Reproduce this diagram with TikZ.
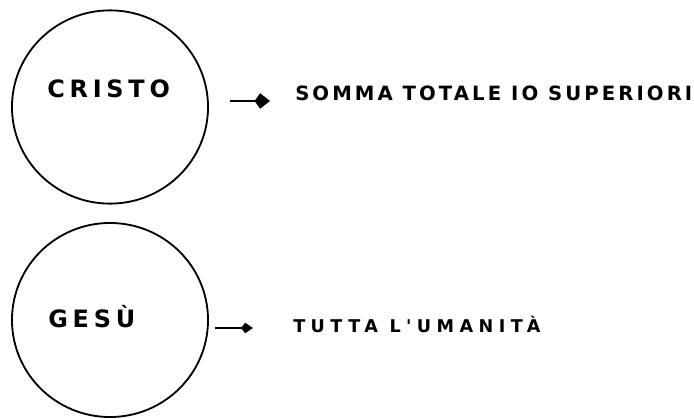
\documentclass[tikz,border=0pt]{standalone}
\usepackage{fontspec}
\usepackage{tikz}
\usetikzlibrary{arrows.meta, positioning, shapes.geometric}
\newfontfamily\handfont[LetterSpace=22]{DejaVu Sans}
\newcommand{\spaced}[1]{\addfontfeature{LetterSpace=#1}}

\begin{document}
\begin{tikzpicture}[
			x=0.025cm, y=-0.025cm,
			soul/.style={ellipse, draw, line width=1.3pt, minimum width=4.9cm, minimum height=4.83cm, inner sep=0pt},
			soulname/.style={anchor=base west, inner sep=0pt, font=\handfont\bfseries\fontsize{17}{20}\selectfont\spaced{20}},
			meaning/.style={anchor=base west, inner sep=0pt, font=\handfont\bfseries\fontsize{14}{18}\selectfont\spaced{15.5}},
			arrow/.style={-{Kite[length=11pt, width=11pt, inset=4pt]}, line width=1.4pt}
		]
		\useasboundingbox (0,0) rectangle (694,419);
		% Cristo
		\node[soul] (cristo) at (110,107) {};
		\node[soulname] (cristo-label) at (47,98) {CRISTO};
		\node[meaning] (somma) at (295,101) {SOMMA TOTALE IO SUPERIORI};
		\coordinate (c-start) at (230,101);
		\draw[arrow, shorten >=17.8pt] (c-start) -- (c-start -| somma.west);
		
		% Gesu
		\node[soul, minimum height=4.85cm] (gesu) at (110,320) {};
		\node[soulname] (gesu-label) at (48,327) {GESÙ};
		\node[meaning, font=\handfont\bfseries\fontsize{12.5}{16}\selectfont\spaced{31}] (umanita) at (293,332) {TUTTA L'UMANITÀ};
		\coordinate (g-start) at (215,328);
		\draw[arrow, shorten >=28.5pt, arrows={-Kite[length=8.5pt, width=7.5pt, inset=3pt]}] (g-start) -- (g-start -| umanita.west);
		\end{tikzpicture}
\end{document}
